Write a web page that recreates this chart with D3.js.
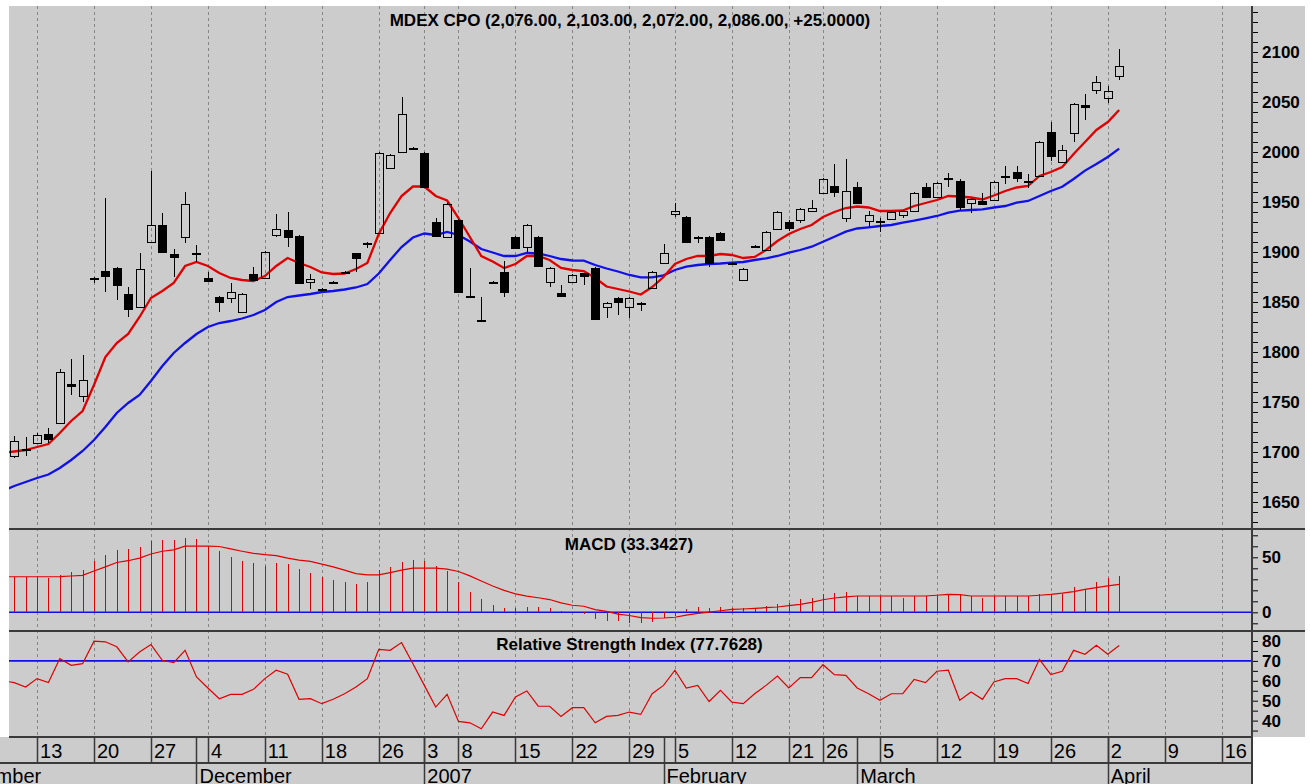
<!DOCTYPE html>
<html>
<head>
<meta charset="utf-8">
<script src="https://cdn.jsdelivr.net/npm/d3@7"></script>
<style>
  body { margin: 0; background: #fff; }
  text { font-family: "Liberation Sans", Arial, sans-serif; }
</style>
</head>
<body>
<script>
// Bursa Malaysia trading calendar (weekends and these holidays are skipped)
const holidays = ["2006-12-25", "2007-01-01", "2007-01-02", "2007-02-01", "2007-02-19", "2007-02-20"];
const calStart = "2006-11-01", calEnd = "2007-04-27";
const dataStart = "2006-11-08";

// daily series, first value is 2006-11-08 (only its indicators are visible)
const open = [null,
  1696,1703,1709,1718,1729,1768,1756,1874,1881,1884,
  1858,1845,1910,1927,1898,1915,1899,1874,1855,1854,
  1840,1878,1874,1917,1922,1916,1870,1863,1870,1880,
  1899,1909,1919,1984,2000,2004,1999,1930,1915,1932,
  1856,1832,1870,1880,1915,1905,1915,1870,1859,1870,
  1879,1884,1845,1854,1845,1849,1864,1889,1938,1935,
  1915,1915,1919,1889,1872,1906,1902,1923,1930,1932,
  1941,1959,1966,1934,1965,1931,1931,1933,1937,1941,
  1965,1955,1974,1971,1949,1951,1952,1976,1980,1971,
  1976,2020,1990,2019,2047,2062,2054,2076];
const high = [null,
  1716,1715,1719,1724,1783,1793,1797,1875,1954,1885,
  1865,1899,1981,1939,1903,1960,1907,1880,1856,1869,
  1859,1885,1901,1938,1940,1917,1878,1864,1871,1881,
  1899,1910,2000,1998,2055,2005,2000,1934,1949,1933,
  1884,1855,1871,1891,1916,1928,1916,1885,1867,1878,
  1879,1885,1850,1855,1855,1850,1881,1908,1949,1936,
  1916,1916,1920,1890,1884,1907,1921,1941,1932,1944,
  1952,1974,1988,1993,1970,1941,1934,1941,1942,1960,
  1969,1970,1979,1973,1954,1959,1971,1986,1986,1978,
  2011,2030,2007,2049,2058,2076,2066,2103];
const low = [null,
  1694,1696,1708,1709,1728,1757,1750,1869,1860,1852,
  1835,1844,1909,1899,1875,1909,1890,1870,1840,1849,
  1839,1871,1873,1915,1905,1868,1863,1862,1869,1879,
  1880,1904,1918,1983,1999,2003,1964,1915,1914,1859,
  1855,1831,1868,1855,1903,1900,1885,1865,1855,1869,
  1867,1832,1834,1837,1834,1841,1863,1888,1935,1909,
  1909,1885,1911,1887,1871,1904,1901,1922,1921,1929,
  1940,1958,1955,1930,1948,1925,1920,1932,1934,1940,
  1954,1954,1965,1942,1939,1947,1951,1968,1970,1964,
  1975,1991,1989,2010,2032,2058,2049,2072];
const close = [null,
  1711,1703,1717,1713,1780,1766,1772,1874,1876,1867,
  1843,1883,1927,1900,1895,1948,1899,1871,1850,1860,
  1858,1872,1900,1923,1915,1869,1873,1863,1870,1880,
  1894,1909,1999,1997,2038,2004,1965,1916,1948,1860,
  1856,1832,1870,1860,1904,1927,1886,1884,1856,1877,
  1876,1833,1849,1850,1854,1849,1880,1899,1941,1910,
  1915,1889,1912,1888,1883,1905,1920,1940,1924,1943,
  1944,1973,1960,1961,1949,1937,1931,1940,1941,1959,
  1955,1969,1974,1945,1953,1948,1970,1976,1974,1971,
  2010,1996,2002,2048,2045,2070,2061,2086];
const maFast = [1699,
  1700.5,1702,1705,1708,1719,1731,1741,1767,1795,1809,
  1818,1835,1854,1861,1869,1886,1890,1886,1879,1874,
  1872,1871,1876,1886,1894,1889,1885,1879.5,1878,1878.5,
  1883,1889,1918,1939,1956,1965.5,1965.5,1956,1951.5,1934,
  1915,1896,1890.5,1884,1888,1896,1896,1892,1884,1882,
  1881,1874,1865.5,1863,1860.5,1857.5,1865,1875,1888,1893,
  1896,1896,1898,1897,1894,1895,1902,1911,1918,1923,
  1927,1935,1940,1944,1945.5,1944.5,1941,1941,1941.5,1946,
  1949,1952,1956,1955.5,1954.5,1952.5,1956.5,1961,1964.5,1966,
  1976,1980,1985,1998,2010,2022,2030,2042];
const maSlow = [1661,
  1666,1670,1674,1677.5,1684,1692,1701,1712,1725,1739,
  1749,1757,1771,1786,1799,1809,1818,1825,1829,1831,
  1833.5,1837,1842,1850,1855,1856.5,1858,1860,1861,1862.5,
  1864.5,1868,1878.5,1892,1905,1914.5,1918.5,1917,1920,1917,
  1910.5,1903,1899.5,1896,1896,1899,1898.5,1896,1893,1891.5,
  1891.3,1887,1883.5,1880.5,1877,1874.7,1874.7,1876.7,1882,1885.3,
  1887,1888,1888.5,1889.3,1890,1892,1893.7,1896,1899.3,1902,
  1905.3,1910.3,1915.3,1920.3,1923.5,1924.7,1926,1927,1929.3,1931.3,
  1933.7,1936,1939.3,1941.3,1942,1942.7,1944.5,1946,1949.3,1951,
  1956,1961,1965.2,1973,1981.4,1988,1995,2003.4];
const macd = [32,
  32.3,32.3,32.3,31,34.1,36.9,38.3,46.3,52.5,56.7,
  57.3,59.2,64.7,65.9,65.3,67.4,66.8,60.7,55.5,50.6,
  47,44.5,42.4,44.5,43.9,39.3,35.6,32.3,29.2,27.7,
  26.1,27.7,38.3,41.5,46,47.9,47,42.4,37.2,27.1,
  18.8,11.7,6.6,4.1,4.1,4.8,4.8,3.5,1.1,0.2,
  -1.4,-5.7,-7.5,-8.1,-9.6,-9.6,-8.7,-5.3,-3,2.6,
  4.8,3.5,4.8,4.1,3.5,4.1,5.4,7.2,8.7,11.8,
  12.7,16.4,17.9,18.8,14.8,14.8,14.8,14.8,13.3,14.8,
  14.8,14.8,16.3,16.3,14.8,12.7,14.8,14.8,14.8,14.8,
  16.3,17,17,23.1,20.9,28,31,33.3427];
const signal = [32.3,
  32.3,32.3,32.3,32.3,32.5,33,33.6,37.6,41.3,45.3,
  46.9,49.3,53,55.5,56.7,60.1,60.1,60.1,59.8,57.6,
  55.5,53.6,52.4,51.5,49.3,47.5,46.3,43.8,41.3,38.3,
  35.2,34,34,36.1,38.3,40.1,40.1,40.1,39.2,37.1,
  33.1,28.4,23.9,19.9,16.8,14.7,13.2,11.6,8.6,6.4,
  5.5,2.4,0.8,-1.7,-2.9,-4.8,-5.4,-5.2,-4.5,-2.5,
  -1,0.2,1.4,2.6,3,3.5,4.2,4.8,6,7.2,
  9,11.4,13,14,14.8,14.8,14.8,14.8,14.8,14.8,
  14.8,15.5,16.3,16,14.8,14.8,14.8,14.8,14.8,14.8,
  15.5,16.3,17.4,18.8,20.9,22.5,24,25.4];
const rsi = [60,
  59.1,56.9,61.1,59.1,71.2,67.8,68.6,79.9,79.6,77.1,
  69.5,74.5,78.2,70.3,69.1,75.3,61.9,56.4,51,53.2,
  53.2,55.7,61.1,65.3,63.3,50.7,51,48.5,50.7,53.5,
  56.9,61.1,75.8,75.3,79.2,68.6,57.7,46.8,53.2,39.6,
  38.9,35.9,44.3,42.6,51.9,54.9,47.3,47.2,42.1,46.5,
  46.5,38.9,42.1,42.6,44.3,43.1,53.5,57.7,65.3,56.4,
  57.7,49.6,55.2,49.3,48.5,53.5,57.7,62.4,56.4,61.6,
  61.6,68.1,63.1,62.7,56.4,53.5,50.2,53.5,53.5,60.7,
  59.1,64.8,65.3,50.2,54.4,50.7,59.4,61.1,61.1,58.6,
  70.8,63.1,64.8,75.3,73.3,77.9,73.3,77.7628];

const priceTicks = d3.range(1630, 2150, 10);
const macdTicks = d3.range(-10, 80, 10);
const rsiTicks = d3.range(35, 90, 5);
const rsiLevel = 70;
const title = "MDEX CPO (2,076.00, 2,103.00, 2,072.00, 2,086.00, +25.0000)";
const macdTitle = "MACD (33.3427)";
const rsiTitle = "Relative Strength Index (77.7628)";

// ---- calendar
const days = [];
for (let d = new Date(calStart + "T00:00:00Z"); d <= new Date(calEnd + "T00:00:00Z"); d.setUTCDate(d.getUTCDate() + 1)) {
  const s = d.toISOString().slice(0, 10), wd = d.getUTCDay();
  if (wd !== 0 && wd !== 6 && !holidays.includes(s)) days.push(s);
}
const parse = d3.utcParse("%Y-%m-%d");
const s0 = days.indexOf(dataStart);
const bars = close.map((c, j) => ({
  k: s0 + j, o: open[j], h: high[j], l: low[j], c,
  f: maFast[j], sl: maSlow[j], m: macd[j], sg: signal[j], r: rsi[j]
}));

const weekStarts = [], monthStarts = [];
days.forEach((s, k) => {
  const d = parse(s), p = k ? parse(days[k - 1]) : null;
  if (!p || +d3.utcMonday.floor(d) !== +d3.utcMonday.floor(p)) weekStarts.push({k, d});
  if (!p || d.getUTCMonth() !== p.getUTCMonth()) monthStarts.push({k, d});
});

// ---- layout
const W = 1310, H = 784;
const left = 9, right = 1252;
const P = {
  main: [6, 529],
  macd: [530, 631],
  rsi: [632, 737]
};
const BG = "#cccccc", RED = "#e00000", BLUE = "#1010e8";

const first = days.indexOf("2006-11-09");
const x = d3.scaleLinear().domain([first - 0.46, first + 108.66]).range([left, right]);
const y = d3.scaleLinear().domain([1650, 2100]).range([502, 52]);
const ym = d3.scaleLinear().domain([0, 50]).range([612.3, 557.3]);
const yr = d3.scaleLinear().domain([40, 80]).range([720.6, 641]);

const svg = d3.select("body").append("svg")
  .attr("width", W).attr("height", H).style("display", "block");

svg.append("rect").attr("x", left).attr("y", 6).attr("width", 1305 - left).attr("height", 737 - 6).attr("fill", BG);
svg.append("rect").attr("x", 0).attr("y", 737).attr("width", right).attr("height", H - 737).attr("fill", BG);

const defs = svg.append("defs");
Object.entries(P).forEach(([name, [t, b]]) => {
  defs.append("clipPath").attr("id", "clip-" + name)
    .append("rect").attr("x", left).attr("y", t).attr("width", right - left).attr("height", b - t);
});

// ---- weekly dashed grid
const visWeeks = weekStarts.filter(w => x(w.k) > left && x(w.k) < right);
svg.append("g")
  .attr("stroke", "#858585").attr("stroke-dasharray", "3,3").attr("shape-rendering", "crispEdges")
  .selectAll("line").data(visWeeks).join("line")
  .attr("x1", d => Math.round(x(d.k)) + 0.5).attr("x2", d => Math.round(x(d.k)) + 0.5)
  .attr("y1", P.main[0]).attr("y2", P.rsi[1]);

// ---- titles
const tStyle = g => g.attr("text-anchor", "middle").attr("font-size", 17).attr("font-weight", "bold").attr("fill", "#000");
svg.append("text").attr("x", 630).attr("y", 25.5).text(title).call(tStyle);
svg.append("text").attr("x", 629).attr("y", 549.5).text(macdTitle).call(tStyle);
svg.append("text").attr("x", 629.5).attr("y", 650).text(rsiTitle).call(tStyle);

// ---- main panel: moving averages and candles
const gMain = svg.append("g").attr("clip-path", "url(#clip-main)");
gMain.append("path").datum(bars)
  .attr("fill", "none").attr("stroke", BLUE).attr("stroke-width", 2.3)
  .attr("d", d3.line().x(d => x(d.k)).y(d => y(d.sl)));
gMain.append("path").datum(bars)
  .attr("fill", "none").attr("stroke", RED).attr("stroke-width", 2.3)
  .attr("d", d3.line().x(d => x(d.k)).y(d => y(d.f)));

const candles = gMain.append("g").attr("shape-rendering", "crispEdges")
  .selectAll("g").data(bars.filter(d => d.o != null)).join("g");
const cx = d => Math.round(x(d.k)) + 0.5;
candles.append("line")
  .attr("x1", cx).attr("x2", cx)
  .attr("y1", d => y(d.h)).attr("y2", d => y(Math.max(d.o, d.c)))
  .attr("stroke", "#000");
candles.append("line")
  .attr("x1", cx).attr("x2", cx)
  .attr("y1", d => y(Math.min(d.o, d.c))).attr("y2", d => y(d.l))
  .attr("stroke", "#000");
candles.append("rect")
  .attr("x", d => Math.round(x(d.k)) - 4 + 0.5)
  .attr("width", 8)
  .attr("y", d => Math.round(y(Math.max(d.o, d.c))) + 0.5)
  .attr("height", d => Math.max(1, Math.round(Math.abs(y(d.o) - y(d.c)))))
  .attr("fill", d => d.c > d.o ? "none" : "#000")
  .attr("stroke", "#000");

// ---- MACD panel
const gMacd = svg.append("g").attr("clip-path", "url(#clip-macd)");
gMacd.append("line").attr("x1", left).attr("x2", right)
  .attr("y1", ym(0)).attr("y2", ym(0)).attr("stroke", BLUE).attr("stroke-width", 1.6);
gMacd.append("g").attr("shape-rendering", "crispEdges")
  .selectAll("line").data(bars).join("line")
  .attr("x1", cx).attr("x2", cx)
  .attr("y1", ym(0)).attr("y2", d => ym(d.m))
  .attr("stroke", RED);
gMacd.append("path").datum(bars)
  .attr("fill", "none").attr("stroke", RED).attr("stroke-width", 1.2)
  .attr("d", d3.line().x(d => x(d.k)).y(d => ym(d.sg)));

// ---- RSI panel
const gRsi = svg.append("g").attr("clip-path", "url(#clip-rsi)");
gRsi.append("line").attr("x1", left).attr("x2", right)
  .attr("y1", yr(rsiLevel)).attr("y2", yr(rsiLevel)).attr("stroke", BLUE).attr("stroke-width", 1.6);
gRsi.append("path").datum(bars)
  .attr("fill", "none").attr("stroke", RED).attr("stroke-width", 1.2)
  .attr("d", d3.line().x(d => x(d.k)).y(d => yr(d.r)));

// ---- right axes
const axisStyle = g => {
  g.select(".domain").remove();
  g.selectAll(".tick line").attr("stroke", "#000");
  g.selectAll(".tick text").attr("font-size", 17).attr("font-weight", "bold").attr("fill", "#000")
    .attr("font-family", '"Liberation Sans", Arial, sans-serif');
};
svg.append("g").attr("transform", `translate(${right},0)`)
  .call(d3.axisRight(y).tickValues(priceTicks).tickSize(6).tickPadding(4)
    .tickFormat(d => d % 50 ? "" : d))
  .call(axisStyle);
svg.append("g").attr("transform", `translate(${right},0)`)
  .call(d3.axisRight(ym).tickValues(macdTicks).tickSize(6).tickPadding(4)
    .tickFormat(d => d % 50 ? "" : d))
  .call(axisStyle);
svg.append("g").attr("transform", `translate(${right},0)`)
  .call(d3.axisRight(yr).tickValues(rsiTicks.filter(v => yr(v) > P.rsi[0])).tickSize(6).tickPadding(4)
    .tickFormat(d => d % 10 ? "" : d))
  .call(axisStyle);

// ---- frame lines
const frame = svg.append("g").attr("stroke", "#3a3a3a").attr("shape-rendering", "crispEdges");
frame.append("line").attr("x1", right).attr("x2", right).attr("y1", 6).attr("y2", H).attr("stroke-width", 1.5);
[[P.main[1], 1305], [P.macd[1], 1305], [P.rsi[1], right], [763, right]].forEach(([yy, x2]) => {
  frame.append("line").attr("x1", yy > 737 ? 0 : left).attr("x2", x2).attr("y1", yy).attr("y2", yy).attr("stroke-width", 2);
});

// ---- date axis (weeks and months)
const gx = svg.append("g");
const weeksShown = weekStarts.filter(w => x(w.k) >= left && x(w.k) < right - 8);
gx.selectAll("line.wk").data(weeksShown).join("line").attr("class", "wk")
  .attr("x1", d => Math.round(x(d.k)) + 0.5).attr("x2", d => Math.round(x(d.k)) + 0.5)
  .attr("y1", 737).attr("y2", 763).attr("stroke", "#3a3a3a").attr("stroke-width", 1.5);
gx.selectAll("text.wk").data(weeksShown).join("text").attr("class", "wk")
  .attr("x", d => x(d.k) + 3).attr("y", 758)
  .attr("font-size", 20).attr("fill", "#000")
  .text(d => d.d.getUTCDate());
const monthsShown = monthStarts.filter(m => x(m.k) < right);
gx.selectAll("line.mo").data(monthsShown).join("line").attr("class", "mo")
  .attr("x1", d => Math.round(x(d.k)) + 0.5).attr("x2", d => Math.round(x(d.k)) + 0.5)
  .attr("y1", 737).attr("y2", H).attr("stroke", "#3a3a3a").attr("stroke-width", 1.5);
gx.selectAll("text.mo").data(monthsShown).join("text").attr("class", "mo")
  .attr("x", d => x(d.k) + 3).attr("y", 782.5)
  .attr("font-size", 20).attr("fill", "#000")
  .text(d => d.d.getUTCMonth() === 0 ? d3.utcFormat("%Y")(d.d) : d3.utcFormat("%B")(d.d));
</script>
</body>
</html>
